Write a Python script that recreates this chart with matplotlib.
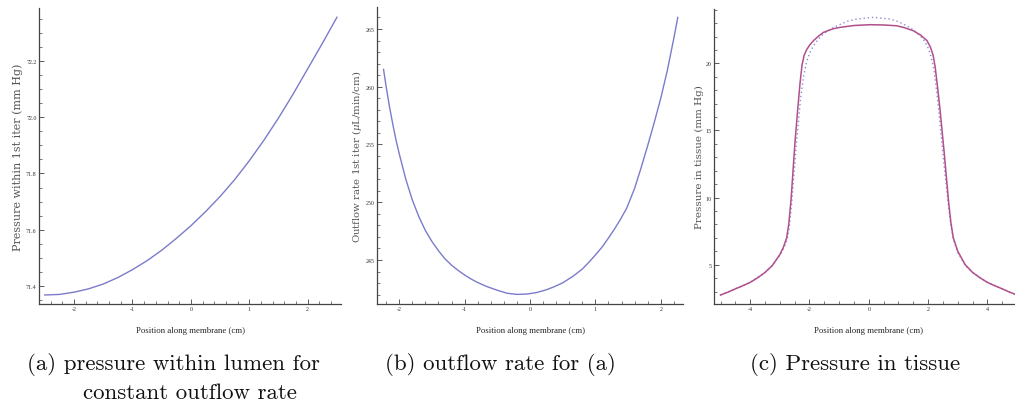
import matplotlib
matplotlib.use("Agg")
import matplotlib.pyplot as plt
from matplotlib.ticker import MultipleLocator, FormatStrFormatter

# ---------------- data ----------------
# (a) pressure within lumen
a_x = [-2.5, -2.25, -2.0, -1.75, -1.5, -1.25, -1.0, -0.75, -0.5, -0.25, 0.0,
       0.25, 0.5, 0.75, 1.0, 1.25, 1.5, 1.75, 2.0, 2.25, 2.5]
a_y = [71.368, 71.370, 71.378, 71.390, 71.407, 71.430, 71.458, 71.490, 71.527,
       71.569, 71.614, 71.664, 71.718, 71.778, 71.845, 71.918, 71.997, 72.082,
       72.172, 72.262, 72.355]

# (b) outflow rate
b_x = [-2.24, -2.2, -2.15, -2.1, -2.05, -2.0, -1.9, -1.8, -1.7, -1.6, -1.5,
       -1.4, -1.3, -1.2, -1.1, -1.0, -0.9, -0.8, -0.66, -0.5, -0.35, -0.2,
       -0.05, 0.1, 0.25, 0.36, 0.5, 0.66, 0.8, 0.9, 1.0, 1.1, 1.2, 1.3, 1.38,
       1.48, 1.6, 1.7, 1.8, 1.9, 2.0, 2.1, 2.2, 2.26]
b_y = [261.5, 260.0, 258.3, 256.8, 255.4, 254.2, 252.0, 250.2, 248.75, 247.55,
       246.6, 245.8, 245.1, 244.55, 244.1, 243.7, 243.35, 243.05, 242.7, 242.38,
       242.12, 242.02, 242.05, 242.18, 242.42, 242.66, 243.02, 243.6, 244.22,
       244.8, 245.43, 246.1, 246.9, 247.75, 248.48, 249.5, 251.2, 253.0, 254.9,
       256.9, 259.0, 261.4, 264.2, 266.0]

# (c) pressure in tissue: solid and dotted curves
c_x = [-5.0, -4.75, -4.5, -4.25, -4.0, -3.75, -3.5, -3.25, -3.0, -2.88, -2.77,
       -2.7, -2.62, -2.49, -2.4, -2.32, -2.25, -2.18, -2.1, -2.0, -1.87, -1.7,
       -1.53, -1.2, -0.97, -0.5, 0.04, 0.5, 0.94, 1.2, 1.5, 1.75, 1.96, 2.08,
       2.17, 2.24, 2.32, 2.4, 2.54, 2.69, 2.77, 2.85, 3.0, 3.25, 3.5, 3.75,
       4.0, 4.25, 4.5, 4.75, 5.0]
c_solid = [2.74, 2.95, 3.20, 3.43, 3.68, 4.02, 4.42, 4.95, 5.75, 6.3, 7.0,
           8.0, 9.9, 14.1, 16.5, 18.5, 19.9, 20.6, 21.0, 21.35, 21.68, 22.02,
           22.31, 22.58, 22.68, 22.82, 22.88, 22.86, 22.80, 22.66, 22.43, 22.1,
           21.7, 21.2, 20.6, 19.7, 18.2, 16.6, 13.4, 9.7, 8.1, 7.0, 6.0, 5.0,
           4.42, 4.02, 3.68, 3.43, 3.20, 2.95, 2.74]
d_x = [-5.0, -4.5, -4.0, -3.5, -3.25, -3.0, -2.85, -2.75, -2.68, -2.6, -2.45,
       -2.3, -2.2, -2.1, -2.0, -1.87, -1.7, -1.53, -1.25, -0.97, -0.7, -0.4,
       0.16, 0.72, 1.0, 1.28, 1.5, 1.73, 1.9, 2.0, 2.1, 2.2, 2.3, 2.38, 2.52,
       2.69, 2.77, 2.85, 3.0, 3.25, 3.5, 4.0, 4.5, 5.0]
c_dotted = [2.74, 3.20, 3.68, 4.42, 4.95, 5.7, 6.3, 6.9, 7.8, 9.6, 13.8,
            17.4, 19.0, 20.1, 20.75, 21.3, 21.8, 22.2, 22.6, 22.9, 23.15, 23.3,
            23.43, 23.3, 23.1, 22.8, 22.5, 22.06, 21.6, 21.15, 20.5, 19.5, 17.7,
            16.0, 12.8, 9.3, 7.9, 6.9, 5.9, 4.95, 4.42, 3.68, 3.20, 2.74]

captions = ["(a) pressure within lumen for", "constant outflow rate",
            "(b) outflow rate for (a)", "(c) Pressure in tissue"]
xlabel = "Position along membrane (cm)"
ylabels = ["Pressure within 1st iter (mm Hg)",
           r"Outflow rate 1st iter ($\mu$L/min/cm)",
           "Pressure in tissue (mm Hg)"]

# ---------------- style ----------------
plt.rcParams["mathtext.fontset"] = "dejavuserif"
W, H = 1015, 414
fig = plt.figure(figsize=(W / 100, H / 100), dpi=100)
fig.patch.set_facecolor("white")

blue = "#7b7bcb"
magenta = "#b0508c"
dotblue = "#8c8cd4"
axc = "#444444"


def make_ax(left, right, top, bottom):
    return fig.add_axes([left / W, (H - bottom) / H, (right - left) / W, (bottom - top) / H])


def style(ax, ylab, ylab_x, ylab_size, xlab_x=0.5):
    for s in ("top", "right"):
        ax.spines[s].set_visible(False)
    for s in ("left", "bottom"):
        ax.spines[s].set_color(axc)
        ax.spines[s].set_linewidth(0.9)
    ax.tick_params(which="major", direction="in", length=3.5, width=0.6,
                   color=axc, labelsize=4.3, pad=1.8, labelcolor="#333333")
    ax.tick_params(which="minor", direction="in", length=2, width=0.5, color=axc)
    for lab in ax.get_xticklabels() + ax.get_yticklabels():
        lab.set_family("Liberation Serif")
    ax.set_xlabel(xlabel, fontsize=6.3, family="Liberation Serif", color="#222222", va="center")
    ax.xaxis.set_label_coords(xlab_x, -26 / (ax.get_position().height * H))
    ax.set_ylabel(ylab, fontsize=ylab_size, family="DejaVu Serif", color="#555555", va="center")
    ax.yaxis.set_label_coords(ylab_x, 0.5)


# (a)
axA = make_ax(39, 341, 9, 305)
axA.plot(a_x, a_y, color=blue, lw=1.0)
axA.set_xlim(-2.6, 2.57)
axA.set_ylim(71.336, 72.388)
axA.xaxis.set_major_locator(MultipleLocator(1))
axA.xaxis.set_minor_locator(MultipleLocator(0.2))
axA.yaxis.set_major_locator(MultipleLocator(0.2))
axA.yaxis.set_minor_locator(MultipleLocator(0.05))
axA.yaxis.set_major_formatter(FormatStrFormatter("%.1f"))
axA.xaxis.set_major_formatter(FormatStrFormatter("%d"))
style(axA, ylabels[0], (18 - 39) / 302, 8.0)

# (b)
axB = make_ax(377, 683, 8, 305)
axB.plot(b_x, b_y, color=blue, lw=1.0)
axB.set_xlim(-2.34, 2.34)
axB.set_ylim(241.19, 266.9)
axB.xaxis.set_major_locator(MultipleLocator(1))
axB.xaxis.set_minor_locator(MultipleLocator(0.2))
axB.yaxis.set_major_locator(MultipleLocator(5))
axB.yaxis.set_minor_locator(MultipleLocator(1))
axB.yaxis.set_major_formatter(FormatStrFormatter("%d"))
axB.xaxis.set_major_formatter(FormatStrFormatter("%d"))
style(axB, ylabels[1], (357 - 377) / 306, 7.3)

# (c)
axC = make_ax(714, 1015, 10, 305)
axC.plot(d_x, c_dotted, color=dotblue, lw=1.0, linestyle=(0, (1, 2)))
axC.plot(c_x, c_solid, color=magenta, lw=1.1)
axC.set_xlim(-5.22, 4.93)
axC.set_ylim(2.07, 24.05)
axC.xaxis.set_major_locator(MultipleLocator(2))
axC.xaxis.set_minor_locator(MultipleLocator(0.5))
axC.yaxis.set_major_locator(MultipleLocator(5))
axC.yaxis.set_minor_locator(MultipleLocator(1))
axC.yaxis.set_major_formatter(FormatStrFormatter("%d"))
axC.xaxis.set_major_formatter(FormatStrFormatter("%d"))
style(axC, ylabels[2], (699 - 714) / 301, 7.5, xlab_x=(868.7 - 714) / 301)

# captions
cap_kw = dict(fontfamily="cmr10", fontsize=16.5, color="#111111", va="center")
fig.text(27 / W, 1 - 365 / H, captions[0], ha="left", **cap_kw)
fig.text(83 / W, 1 - 393 / H, captions[1], ha="left", **cap_kw)
fig.text(500 / W, 1 - 365 / H, captions[2], ha="center", **cap_kw)
fig.text(855 / W, 1 - 365 / H, captions[3], ha="center", **cap_kw)

fig.savefig("out.png", dpi=100, facecolor="white")
